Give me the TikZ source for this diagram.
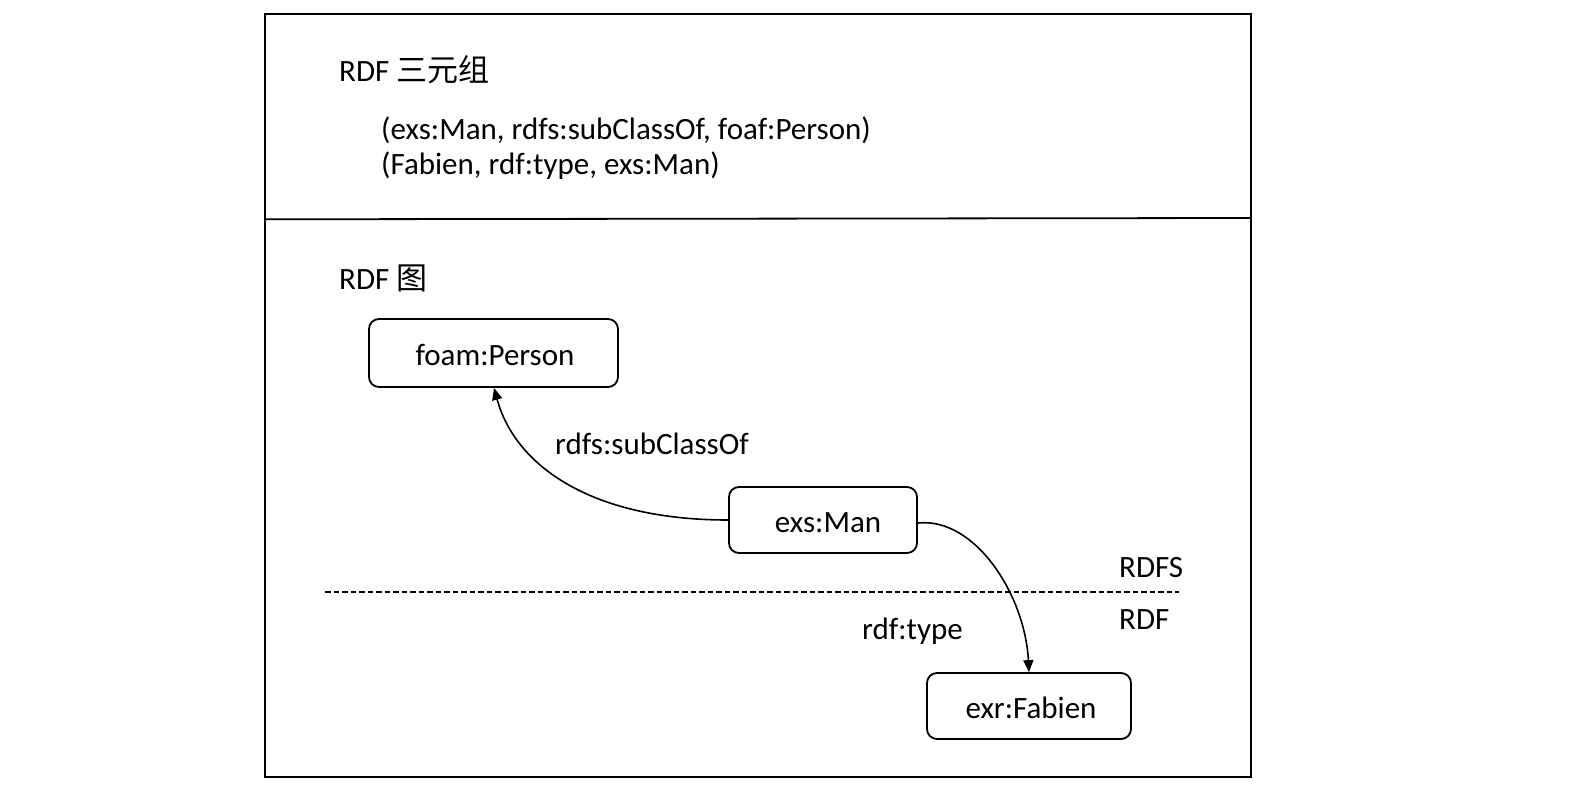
\documentclass[tikz,border=0pt]{standalone}
\usepackage{fontspec}
\setmainfont{Carlito}
\newfontfamily\cjk{Noto Sans CJK SC}
\usetikzlibrary{arrows.meta}
\begin{document}
\begin{tikzpicture}[x=1pt,y=-1pt,
  txt/.style={font=\fontsize{31}{36}\selectfont, inner sep=0pt, anchor=base west},
  box/.style={draw, line width=1.8pt, rounded corners=10pt, font=\fontsize{31}{36}\selectfont, inner sep=0pt, text height=24pt, text depth=0pt},
  conn/.style={line width=1.6pt, -{Triangle[length=12pt,width=10pt]}}]
\useasboundingbox (0,0) rectangle (1595,789);
\draw[line width=2pt] (265,14) rectangle (1251,777);
\draw[line width=1.8pt] (265,219.3) -- (1251,218);
\node[txt] (t1) at (339,82) {RDF {\cjk 三元组}};
\node[txt] (t2) at (381,139.5) {(exs:Man, rdfs:subClassOf, foaf:Person)};
\node[txt] (t3) at (381,175) {(Fabien, rdf:type, exs:Man)};
\node[txt] (t4) at (339,289) {RDF {\cjk 图}};
\node[box, minimum width=249pt, minimum height=68pt] (person) at (493.5,353) {\hspace{3pt}foam:Person};
\node[box, minimum width=188pt, minimum height=66pt] (man) at (823,520) {\hspace{10pt}exs:Man};
\node[box, minimum width=204pt, minimum height=66pt] (fabien) at (1029,706) {\hspace{4pt}exr:Fabien};
\coordinate (dl) at (325,592);
\coordinate (dr) at (1179,592);
\draw[line width=1.2pt, dash pattern=on 5.5pt off 3pt] (dl) -- (dr);
\node[txt] (rdfs) at (1119,577) {RDFS};
\node[txt] (rdf) at (1119,629) {RDF};
\node[txt] (lsub) at (555,454) {rdfs:subClassOf};
\node[txt] (ltype) at (862,639) {rdf:type};
\draw[conn] (man.west) .. controls (590,520) and (515,465) .. ([xshift=0.5pt]person.south);
\draw[conn] ([yshift=-3pt]man.east) .. controls (975,517) and (1025,595) .. (fabien.north);
\end{tikzpicture}
\end{document}
